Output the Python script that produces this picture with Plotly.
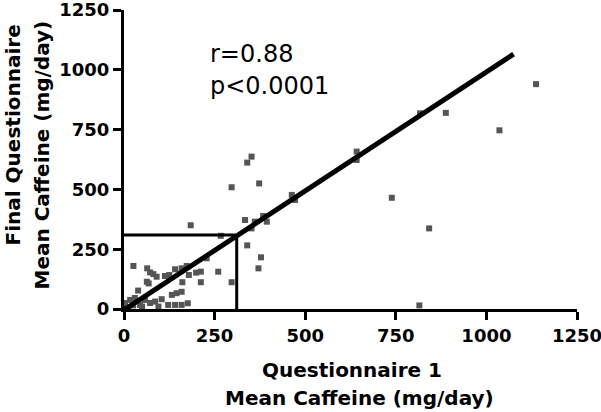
import plotly.graph_objects as go

# Data
q1_caffeine = [1137, 1036, 888, 817, 842, 815, 739, 642, 642, 463, 472, 373, 352, 340, 297,
               334, 361, 384, 394, 352, 340, 378, 371, 297, 184, 267,
               26, 64, 72, 81, 90, 63, 68, 113, 125, 141, 159, 173, 179, 199, 212, 228, 260,
               212, 161, 132, 145, 159, 39, 86, 104, 122, 141, 159, 176, 3, 17, 30, 44, 11,
               58, 72, 5, 25, 50, 95]
final_caffeine = [940, 747, 820, 818, 337, 15, 465, 658, 623, 477, 456, 525, 637, 612, 509,
                  372, 365, 389, 365, 337, 266, 216, 170, 112, 350, 306,
                  180, 170, 153, 146, 135, 114, 107, 138, 142, 166, 170, 180, 142, 152, 156, 212, 156,
                  112, 112, 59, 66, 72, 77, 31, 41, 17, 17, 17, 24, 25, 38, 46, 17, 8,
                  38, 25, 5, 15, 10, 10]

fit_slope = 0.995
fit_intercept = -4
fit_x = [0, 1075]
mean_q1 = 311
mean_final = 309
stats_text = ["r=0.88", "p<0.0001"]
tick_vals = [0, 250, 500, 750, 1000, 1250]

fig = go.Figure()
fig.add_trace(go.Scatter(
    x=q1_caffeine, y=final_caffeine, mode="markers",
    marker=dict(symbol="square", size=6, color="#555555"),
    cliponaxis=False, showlegend=False))
fig.add_trace(go.Scatter(
    x=fit_x, y=[fit_slope * v + fit_intercept for v in fit_x], mode="lines",
    line=dict(color="black", width=5), showlegend=False))
fig.add_trace(go.Scatter(
    x=[0, mean_q1, mean_q1], y=[mean_final, mean_final, 0], mode="lines",
    line=dict(color="black", width=3), showlegend=False, cliponaxis=False))

axis_common = dict(range=[0, 1250], tickvals=tick_vals, showline=True, linecolor="black",
                   linewidth=3, ticks="outside", ticklen=8, tickwidth=3, tickcolor="black",
                   showgrid=False, zeroline=False, automargin=False,
                   ticklabeloverflow="allow",
                   tickfont=dict(family="DejaVu Sans", size=18, color="black", weight="bold"))
fig.update_xaxes(**axis_common)
fig.update_yaxes(**axis_common)

title_font = dict(family="DejaVu Sans", size=20, color="black", weight="bold")
ann = [
    dict(text="Questionnaire 1", x=0.504, y=-0.204, xref="paper", yref="paper",
         showarrow=False, font=title_font, xanchor="center", yanchor="middle"),
    dict(text="Mean Caffeine (mg/day)", x=0.519, y=-0.298, xref="paper", yref="paper",
         showarrow=False, font=title_font, xanchor="center", yanchor="middle"),
    dict(text="Final Questionnaire", x=-0.244, y=0.582, xref="paper", yref="paper",
         showarrow=False, font=title_font, textangle=-90, xanchor="center", yanchor="middle"),
    dict(text="Mean Caffeine (mg/day)", x=-0.180, y=0.515, xref="paper", yref="paper",
         showarrow=False, font=title_font, textangle=-90, xanchor="center", yanchor="middle"),
    dict(text=stats_text[0], x=232, y=1064, xref="x", yref="y", showarrow=False,
         xanchor="left", yanchor="middle",
         font=dict(family="DejaVu Sans", size=24, color="black")),
    dict(text=stats_text[1], x=232, y=932, xref="x", yref="y", showarrow=False,
         xanchor="left", yanchor="middle",
         font=dict(family="DejaVu Sans", size=24, color="black")),
]
fig.update_layout(width=601, height=412, margin=dict(l=124, r=24, t=10, b=103, autoexpand=False),
                  plot_bgcolor="white", paper_bgcolor="white", annotations=ann)
fig.write_html("out.html", config={"displayModeBar": False},
               post_script="document.body.style.margin='0';document.body.style.overflow='hidden';")
